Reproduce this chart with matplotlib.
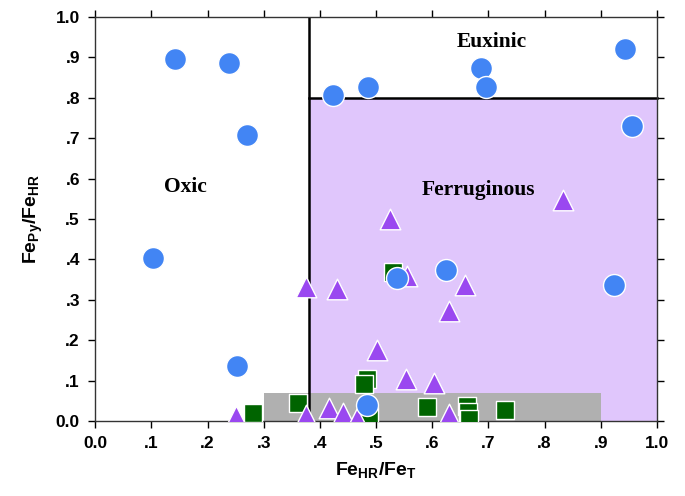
import matplotlib
matplotlib.use('Agg')
from matplotlib import pyplot

# circles
circ_x = [0.142, 0.238, 0.270, 0.103, 0.253, 0.423, 0.486, 0.687, 0.696,
          0.943, 0.955, 0.625, 0.537, 0.923, 0.484]
circ_y = [0.896, 0.886, 0.708, 0.403, 0.136, 0.807, 0.827, 0.874, 0.827,
          0.921, 0.730, 0.374, 0.354, 0.337, 0.040]

# triangles
tri_x = [0.833, 0.525, 0.375, 0.431, 0.555, 0.658, 0.630, 0.502, 0.553,
         0.603, 0.251, 0.376, 0.416, 0.441, 0.466, 0.630]
tri_y = [0.547, 0.500, 0.332, 0.327, 0.359, 0.337, 0.272, 0.176, 0.104,
         0.094, 0.012, 0.015, 0.032, 0.020, 0.007, 0.017]

# squares
sq_x = [0.530, 0.281, 0.361, 0.484, 0.479, 0.488, 0.591, 0.662, 0.663,
        0.665, 0.730]
sq_y = [0.369, 0.020, 0.045, 0.105, 0.092, 0.012, 0.035, 0.038, 0.022,
        0.006, 0.027]

ticks = [i / 10 for i in range(11)]
tick_labels = ['0.0', '.1', '.2', '.3', '.4', '.5', '.6', '.7', '.8', '.9', '1.0']

pyplot.rcParams['font.family'] = 'Liberation Sans'
pyplot.rcParams['mathtext.fontset'] = 'custom'
pyplot.rcParams['mathtext.rm'] = 'Liberation Sans:bold'
pyplot.rcParams['mathtext.it'] = 'Liberation Sans:bold'
pyplot.rcParams['mathtext.bf'] = 'Liberation Sans:bold'

fig = pyplot.figure(figsize=(6.85, 4.96), dpi=100)
ax = fig.add_axes([0.139, 0.151, 0.820, 0.815])

# fields
ax.fill_between([0.38, 1.0], 0, 0.8, color='#e0c6fc', zorder=0, lw=0)
ax.fill_between([0.3, 0.9], 0, 0.07, color='#b0b0b0', zorder=1, lw=0)
ax.plot([0.38, 0.38], [0, 1.0], color='black', lw=1.8, zorder=2)
ax.plot([0.38, 1.0], [0.8, 0.8], color='black', lw=1.8, zorder=2, clip_on=False)

ax.scatter(sq_x, sq_y, marker='s', s=165, color='#006400',
           edgecolors='white', linewidths=1.0, zorder=3)
ax.scatter(tri_x, tri_y, marker='^', s=220, color='#9a48f0',
           edgecolors='white', linewidths=1.0, zorder=4)
ax.scatter(circ_x, circ_y, marker='o', s=250, color='#4285f4',
           edgecolors='white', linewidths=1.0, zorder=5)

ax.text(0.706, 0.938, 'Euxinic', family='Liberation Serif', weight='bold',
        fontsize=15.5, ha='center', va='center')
ax.text(0.160, 0.579, 'Oxic', family='Liberation Serif', weight='bold',
        fontsize=15.5, ha='center', va='center')
ax.text(0.683, 0.572, 'Ferruginous', family='Liberation Serif', weight='bold',
        fontsize=15.5, ha='center', va='center')

ax.set_xlim(0, 1.0)
ax.set_ylim(0, 1.0)
ax.set_xticks(ticks)
ax.set_yticks(ticks)
ax.set_xticklabels(tick_labels, fontsize=12.5, weight='bold')
ax.set_yticklabels(tick_labels, fontsize=12.5, weight='bold')
ax.tick_params(direction='out', length=5, width=1, top=True, right=True,
               pad=6)
ax.set_xlabel('Fe$_{HR}$/Fe$_{T}$', fontsize=14, weight='bold', labelpad=6)
ax.set_ylabel('Fe$_{Py}$/Fe$_{HR}$', fontsize=14, weight='bold', labelpad=8)
for sp in ax.spines.values():
    sp.set_linewidth(1.0)
    sp.set_color('#333333')

fig.savefig('out.png', dpi=100)
